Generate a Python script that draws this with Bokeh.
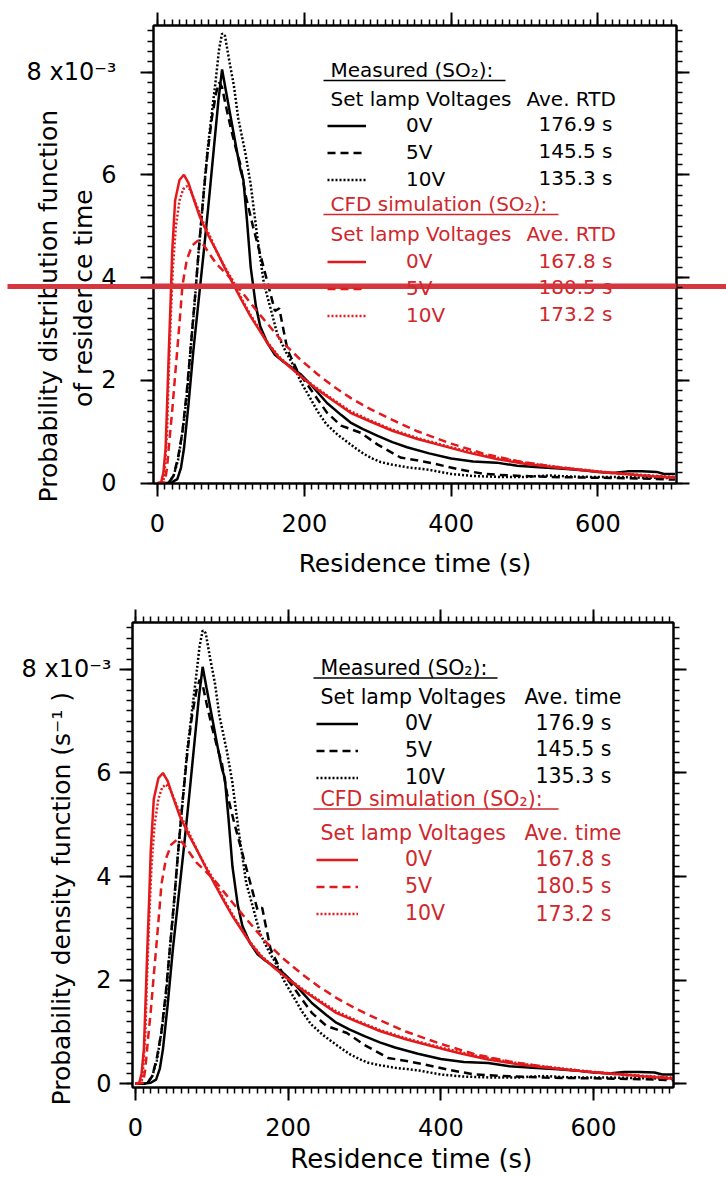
from bokeh.plotting import figure
from bokeh.models import (Range1d, FixedTicker, LinearAxis, Label, Legend,
                          LegendItem, BoxAnnotation)
from bokeh.layouts import column
from bokeh.embed import file_html
from bokeh.resources import INLINE

# ---------------- data (probability density, units of 1e-3 s^-1) ----------------
meas_0v_t = [0, 10, 20, 27, 32, 36, 42, 49, 56, 63, 70, 77, 83, 88, 93, 100, 107, 113, 117, 122,
             127, 134, 140, 150, 160, 170, 181, 195, 210, 231, 250, 263, 280, 300, 320, 340, 370,
             400, 430, 462, 490, 520, 553, 580, 600, 620, 640, 660, 680, 690, 705]
meas_0v_y = [0, 0, 0.02, 0.08, 0.3, 0.67, 1.5, 2.6, 3.55, 4.5, 5.5, 6.55, 7.45, 8.05, 7.65, 7.1,
             6.55, 6.1, 5.9, 5.1, 4.2, 3.45, 3.05, 2.72, 2.5, 2.38, 2.27, 2.12, 1.9, 1.56, 1.33,
             1.18, 1.05, 0.92, 0.8, 0.7, 0.58, 0.48, 0.42, 0.4, 0.34, 0.31, 0.28, 0.25, 0.22, 0.2,
             0.23, 0.23, 0.22, 0.18, 0.18]

meas_5v_t = [0, 15, 22, 28, 34, 40, 45, 51, 56, 62, 68, 74, 80, 84, 88, 93, 100, 107, 113, 120,
             130, 140, 150, 160, 166, 170, 177, 190, 210, 231, 250, 277, 300, 331, 355, 377, 410,
             445, 480, 536, 580, 627, 660, 705]
meas_5v_y = [0, 0, 0.15, 0.5, 1.0, 1.8, 2.6, 3.6, 4.5, 5.5, 6.4, 7.1, 7.6, 7.8, 7.7, 7.35, 6.9,
             6.5, 6.2, 5.6, 5.0, 4.45, 3.9, 3.35, 3.4, 3.1, 2.6, 2.2, 1.8, 1.37, 1.12, 0.98, 0.75,
             0.5, 0.44, 0.38, 0.27, 0.18, 0.15, 0.12, 0.11, 0.1, 0.09, 0.07]

meas_10v_t = [0, 15, 22, 28, 34, 40, 45, 50, 56, 62, 68, 74, 79, 84, 88, 92, 98, 104, 110, 120,
              127, 135, 145, 155, 163, 175, 186, 195, 209, 218, 230, 245, 254, 268, 281, 293,
              304, 320, 340, 370, 400, 430, 468, 500, 520, 536, 560, 600, 627, 660, 705]
meas_10v_y = [0, 0, 0.15, 0.45, 1.0, 1.7, 2.6, 3.4, 4.5, 5.5, 6.46, 7.2, 7.8, 8.45, 8.75, 8.7,
              8.2, 7.74, 7.1, 6.4, 5.81, 4.9, 3.88, 3.35, 2.91, 2.55, 2.27, 1.98, 1.63, 1.4, 1.15,
              0.95, 0.85, 0.7, 0.57, 0.48, 0.41, 0.36, 0.31, 0.26, 0.18, 0.14, 0.12, 0.12, 0.14,
              0.15, 0.13, 0.12, 0.12, 0.11, 0.1]

cfd_0v_t = [0, 5, 8, 11, 13, 15.5, 18, 20, 24, 30, 36, 42, 50, 58, 70, 81, 92, 104, 115, 127,
            140, 150, 165, 181, 200, 218, 240, 263, 290, 320, 354, 380, 422, 462, 500, 540, 581,
            620, 660, 705]
cfd_0v_y = [0, 0.02, 0.2, 0.67, 1.5, 2.6, 3.6, 4.5, 5.5, 5.9, 6.0, 5.85, 5.5, 5.17, 4.8, 4.5,
            4.18, 3.85, 3.55, 3.24, 2.95, 2.72, 2.45, 2.25, 2.02, 1.82, 1.6, 1.37, 1.2, 1.02, 0.86,
            0.76, 0.6, 0.47, 0.38, 0.31, 0.25, 0.2, 0.15, 0.1]

cfd_5v_t = [0, 10, 13, 16, 20, 24, 27, 31, 34, 40, 47, 55, 62, 70, 80, 92, 104, 115, 127, 140,
            150, 172, 195, 218, 240, 263, 290, 320, 354, 400, 445, 490, 536, 580, 627, 660, 705]
cfd_5v_y = [0, 0.02, 0.3, 0.8, 1.4, 2.1, 2.6, 3.3, 3.85, 4.35, 4.62, 4.72, 4.65, 4.48, 4.27,
            4.1, 3.92, 3.72, 3.5, 3.27, 3.1, 2.72, 2.4, 2.12, 1.88, 1.66, 1.44, 1.23, 1.01, 0.77,
            0.57, 0.43, 0.33, 0.25, 0.19, 0.15, 0.11]

cfd_10v_t = [0, 8, 10, 13, 15, 18, 21, 25, 30, 35, 40, 45, 52, 60, 70, 81, 92, 104, 115, 127,
             140, 150, 165, 181, 200, 218, 240, 263, 290, 320, 354, 400, 450, 500, 550, 600, 650,
             705]
cfd_10v_y = [0, 0.02, 0.3, 1.0, 2.0, 3.2, 4.2, 5.0, 5.5, 5.72, 5.78, 5.7, 5.45, 5.15, 4.85, 4.5,
             4.2, 3.9, 3.58, 3.27, 2.97, 2.74, 2.47, 2.26, 2.03, 1.84, 1.62, 1.4, 1.22, 1.04, 0.88,
             0.7, 0.53, 0.4, 0.31, 0.23, 0.17, 0.12]

voltages = ["0V", "5V", "10V"]
measured_ave = ["176.9 s", "145.5 s", "135.3 s"]
cfd_ave = ["167.8 s", "180.5 s", "173.2 s"]

x_major = [0, 200, 400, 600]
x_minor = list(range(0, 710, 10))
y_major = [0, 2, 4, 6, 8]
y_minor = [round(0.2 * i, 1) for i in range(0, 45)]

FONT = "DejaVu Sans"
RED_LINE = "#e3191c"
RED_TEXT = "#d0272c"
BAR_RED = "#d4373e"
NBSP = "\u00a0"


def make_panel(cfg):
    L, R, T, B = cfg["frame"]
    x0, x1 = cfg["xr"]
    y0, y1 = cfg["yr"]

    def dx(px):
        return x0 + (px - L) * (x1 - x0) / (R - L)

    def dy(py):
        return y0 + (B - py) * (y1 - y0) / (B - T)

    p = figure(frame_width=R - L, frame_height=B - T,
               x_range=Range1d(x0, x1), y_range=Range1d(y0, y1),
               output_backend="svg", toolbar_location=None,
               min_border_left=cfg["bl"], min_border_right=cfg["br"],
               min_border_top=cfg["bt"], min_border_bottom=cfg["bb"])
    p.frame_align = False
    p.xgrid.visible = False
    p.ygrid.visible = False
    p.outline_line_color = "black"
    p.outline_line_width = 2
    p.background_fill_color = "white"
    p.border_fill_color = "white"

    def style(ax, fs, standoff, labels=True):
        ax.axis_line_color = "black"
        ax.axis_line_width = 2
        ax.major_tick_line_width = 2
        ax.minor_tick_line_width = 1.5
        ax.major_tick_out = 13
        ax.major_tick_in = 0
        ax.minor_tick_out = 6
        ax.minor_tick_in = 0
        ax.major_label_text_font = FONT
        ax.major_label_text_color = "black"
        ax.axis_label_text_font = FONT
        ax.axis_label_text_font_style = "normal"
        ax.axis_label_text_color = "black"
        if labels:
            ax.major_label_text_font_size = fs
            ax.major_label_standoff = standoff
        else:
            ax.major_label_text_font_size = "0px"
            ax.major_label_text_color = None
            ax.major_label_standoff = 0

    p.xaxis.ticker = FixedTicker(ticks=x_major, minor_ticks=x_minor)
    p.yaxis.ticker = FixedTicker(ticks=y_major, minor_ticks=y_minor)
    xa = p.xaxis[0]
    ya = p.yaxis[0]
    style(xa, cfg["tick_fs"], cfg["x_standoff"])
    style(ya, cfg["tick_fs"], cfg["y_standoff"])
    ya.major_label_overrides = {8: "8 x10\u207b\u00b3"}

    # axis titles
    xa.axis_label = cfg["xtitle"]
    xa.axis_label_text_font_size = cfg["xtitle_fs"]
    xa.axis_label_standoff = cfg["xtitle_standoff"]
    ya.axis_label = cfg["ytitle"]
    ya.axis_label_text_font_size = cfg["ytitle_fs"]
    ya.axis_label_standoff = cfg["ytitle_standoff"]
    ya.axis_label_text_line_height = cfg["ytitle_lh"]

    top_ax = LinearAxis(ticker=FixedTicker(ticks=x_major, minor_ticks=x_minor))
    style(top_ax, "0px", 0, labels=False)
    top_ax.major_label_overrides = {t: "" for t in x_major}
    p.add_layout(top_ax, "above")
    right_ax = LinearAxis(ticker=FixedTicker(ticks=y_major, minor_ticks=y_minor))
    style(right_ax, "0px", 0, labels=False)
    right_ax.major_label_overrides = {t: "" for t in y_major}
    p.add_layout(right_ax, "right")

    # curves
    r_m0 = p.line(meas_0v_t, meas_0v_y, line_color="black", line_width=2.5)
    r_m5 = p.line(meas_5v_t, meas_5v_y, line_color="black", line_width=2.5, line_dash="8 5")
    r_m10 = p.line(meas_10v_t, meas_10v_y, line_color="black", line_width=2.5, line_dash="2 2")
    r_c0 = p.line(cfd_0v_t, cfd_0v_y, line_color=RED_LINE, line_width=2.5)
    r_c5 = p.line(cfd_5v_t, cfd_5v_y, line_color=RED_LINE, line_width=2.5, line_dash="8 5")
    r_c10 = p.line(cfd_10v_t, cfd_10v_y, line_color=RED_LINE, line_width=2.5, line_dash="2 2")

    lf = cfg["leg_fs"]

    def legend(renderers, color, loc):
        items = [LegendItem(label=v, renderers=[r]) for v, r in zip(voltages, renderers)]
        lg = Legend(items=items, location=loc, padding=0, margin=0, spacing=0,
                    glyph_width=cfg["glyph_w"], glyph_height=27, label_height=27,
                    label_standoff=cfg["label_standoff"], label_text_font=FONT,
                    label_text_font_size=lf, label_text_color=color,
                    border_line_alpha=0, background_fill_alpha=0)
        p.add_layout(lg)

    legend([r_m0, r_m5, r_m10], "black", cfg["leg1_loc"])
    legend([r_c0, r_c5, r_c10], RED_TEXT, cfg["leg2_loc"])

    def text(px, py, s, color="black"):
        # py is the wanted baseline; the label box sits ~8px lower than asked
        p.add_layout(Label(x=dx(px), y=dy(py - 8), text=s, text_color=color, text_font=FONT,
                           text_font_size=lf, text_align="left",
                           text_baseline="alphabetic"))

    def underline(px0, px1, py, color):
        p.add_layout(BoxAnnotation(left=dx(px0), right=dx(px1), top=dy(py - 0.8),
                                   bottom=dy(py + 0.8), fill_color=color, fill_alpha=1,
                                   line_alpha=0))

    hx, ax_, vx = cfg["cols"]
    rows = cfg["rows"]
    uo = cfg["ul_off"]
    text(hx, rows[0], "Measured (SO\u2082):")
    underline(hx - 7, cfg["ul1_end"], rows[0] + uo, "black")
    text(hx, rows[1], "Set lamp Voltages")
    text(ax_, rows[1], cfg["ave_label"])
    for i in range(3):
        text(vx, rows[2 + i], measured_ave[i])
    text(hx, rows[5], "CFD simulation (SO\u2082):", RED_TEXT)
    underline(hx - 7, cfg["ul2_end"], rows[5] + uo, RED_TEXT)
    text(hx, rows[6], "Set lamp Voltages", RED_TEXT)
    text(ax_, rows[6], cfg["ave_label"], RED_TEXT)
    for i in range(3):
        text(vx, rows[7 + i], cfd_ave[i], RED_TEXT)

    if cfg.get("redbar"):
        y_a, y_b, out_len = cfg["redbar"]
        ymid = round(dy((y_a + y_b) / 2), 4)
        # outermost left axis whose single long tick carries the bar across the canvas
        bar_ax = LinearAxis(ticker=FixedTicker(ticks=[ymid], minor_ticks=[]))
        bar_ax.axis_line_color = None
        bar_ax.minor_tick_line_color = None
        bar_ax.minor_tick_out = 0
        bar_ax.minor_tick_in = 0
        bar_ax.major_tick_line_color = BAR_RED
        bar_ax.major_tick_line_width = y_b - y_a
        bar_ax.major_tick_line_cap = "butt"
        bar_ax.major_tick_out = out_len
        bar_ax.major_tick_in = 800
        bar_ax.major_label_text_color = None
        bar_ax.major_label_text_font_size = "0px"
        bar_ax.major_label_standoff = 0
        bar_ax.major_label_overrides = {ymid: ""}
        p.add_layout(bar_ax, "left")
        # the same bar over the texts inside the frame
        p.add_layout(BoxAnnotation(left=dx(L - 10), right=dx(R + 10), top=dy(y_a),
                                   bottom=dy(y_b), fill_color=BAR_RED, fill_alpha=1,
                                   line_alpha=0, level="overlay"))
    return p


top_cfg = dict(
    frame=(153, 676, 25, 483), xr=(-5.45, 707.1), yr=(-0.006, 8.905),
    bl=153, br=50, bt=25, bb=106,
    tick_fs="24px", x_standoff=17, y_standoff=24,
    xtitle="Residence time (s)", xtitle_fs="25px", xtitle_standoff=14,
    ytitle=("Probability distribution function" + NBSP * 13 + "\n"
            + "of residence time" + NBSP * 11),
    ytitle_fs="25px", ytitle_standoff=-74, ytitle_lh=1.2,
    leg_fs="20px", glyph_w=39, label_standoff=40,
    leg1_loc=(174, 290.5), leg2_loc=(174, 154.3),
    cols=(330, 526, 538),
    rows=[77, 106, 131.7, 158.3, 185, 211, 241, 268.3, 294, 321.7],
    ul_off=3, ul1_end=505, ul2_end=558, ave_label="Ave. RTD",
    redbar=(283, 288, 23),
)

bottom_cfg = dict(
    frame=(132, 673, 622, 1087), xr=(-3.9, 704.8), yr=(-0.071, 8.905),
    bl=132, br=53, bt=33, bb=90,
    tick_fs="24px", x_standoff=17, y_standoff=8,
    xtitle=NBSP * 2 + "Residence time (s)", xtitle_fs="26px", xtitle_standoff=5,
    ytitle="Probability density function (s\u207b\u00b9 )" + NBSP * 11,
    ytitle_fs="25px", ytitle_standoff=-57, ytitle_lh=1.2,
    leg_fs="20.5px", glyph_w=42, label_standoff=47,
    leg1_loc=(184, 296.2), leg2_loc=(184, 160.1),
    cols=(320, 524, 535),
    rows=[675, 704, 730, 756.7, 783.3, 806, 840, 866.7, 893.5, 921],
    ul_off=2.5, ul1_end=497, ul2_end=558, ave_label="Ave. time",
)

p1 = make_panel(top_cfg)
p2 = make_panel(bottom_cfg)

layout = column(p1, p2, spacing=0)
open("out.html", "w").write(file_html(layout, INLINE))
